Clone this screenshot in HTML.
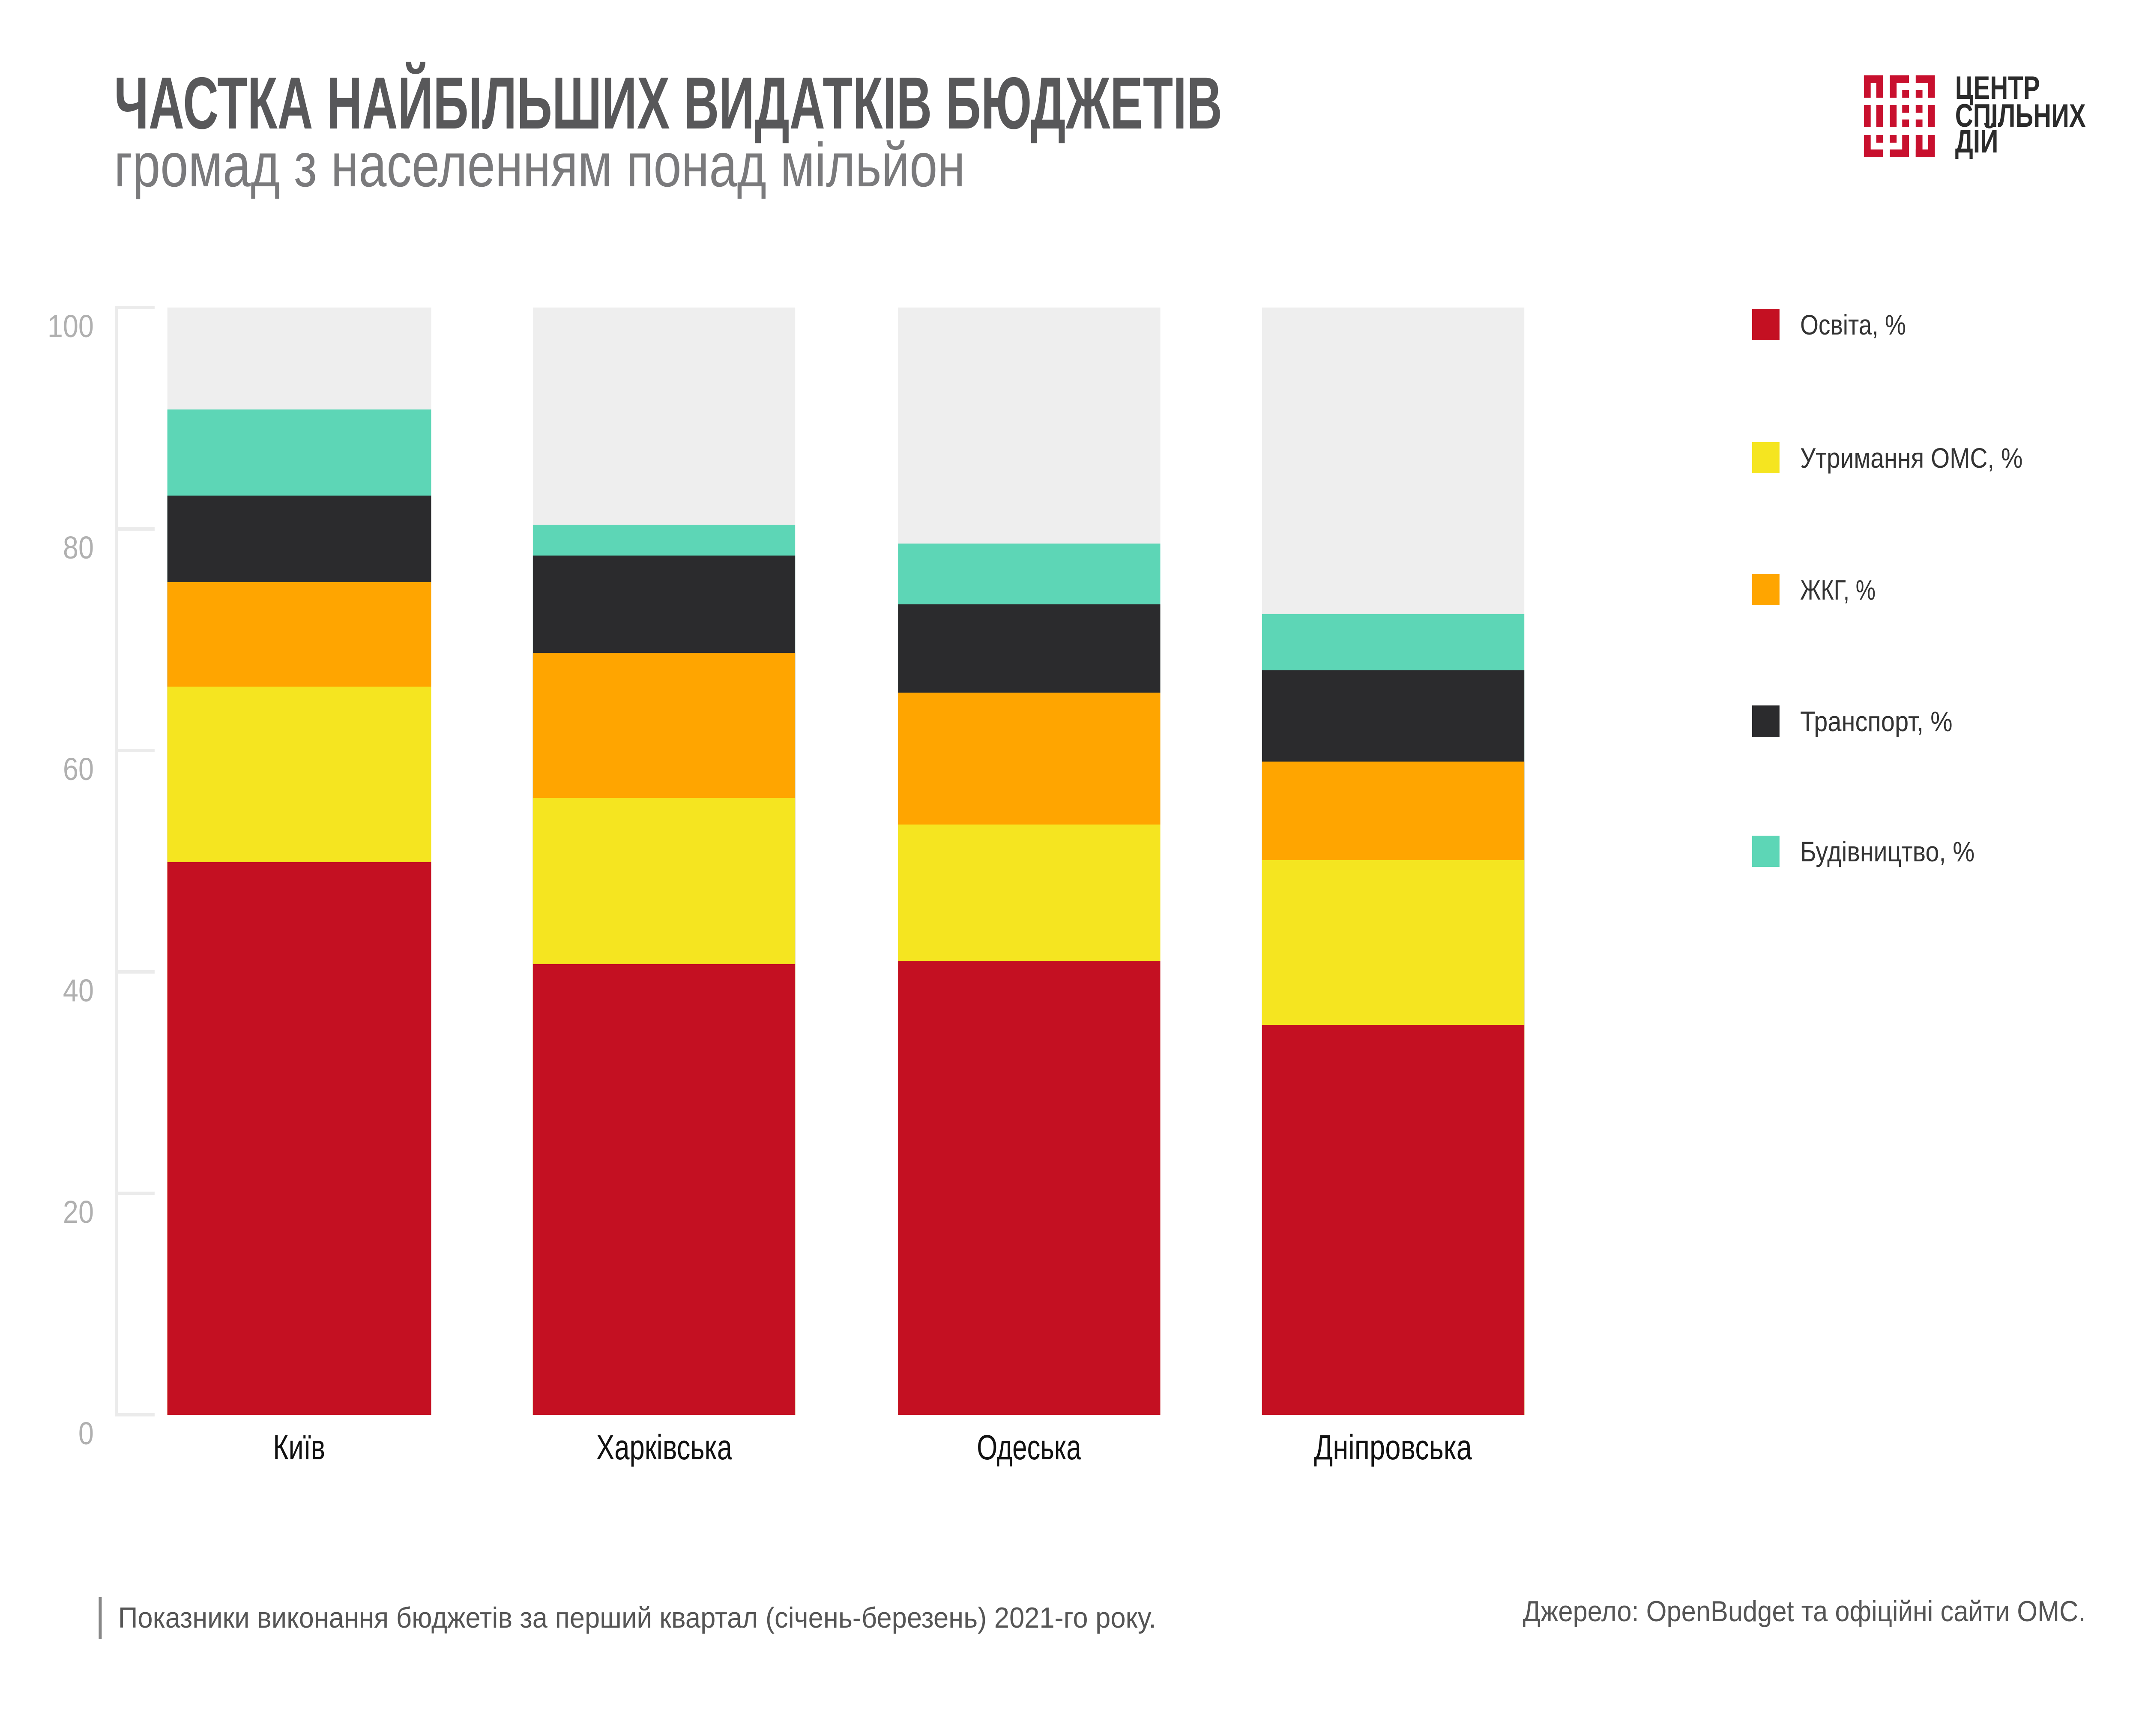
<!DOCTYPE html>
<html><head><meta charset="utf-8"><style>html,body{margin:0;padding:0;background:#fff;overflow:hidden;width:100vw;height:100vh}svg{display:block;position:fixed;left:0;top:0;width:100vw;height:100vh}</style></head>
<body>
<svg xmlns="http://www.w3.org/2000/svg" viewBox="0 0 5708 4053" preserveAspectRatio="none" font-family="'Liberation Sans', sans-serif">
<rect width="5708" height="4053" fill="#fff"/>
<text x="304" y="300" font-size="172" font-weight="bold" fill="#58585a" textLength="2953" lengthAdjust="spacingAndGlyphs">ЧАСТКА НАЙБІЛЬШИХ ВИДАТКІВ БЮДЖЕТІВ</text>
<text x="304" y="435" font-size="145" fill="#7a7a7c" textLength="2268" lengthAdjust="spacingAndGlyphs">громад з населенням понад мільйон</text>
<g fill="#c8102e">
<rect x="4967" y="176" width="51" height="18"/><rect x="4967" y="176" width="18" height="52"/><rect x="5000" y="176" width="18" height="52"/>
<rect x="5036" y="176" width="51" height="18"/><rect x="5036" y="176" width="18" height="52"/><rect x="5069" y="210" width="18" height="18"/>
<rect x="5105" y="176" width="51" height="18"/><rect x="5105" y="210" width="18" height="18"/><rect x="5138" y="176" width="18" height="52"/>
<rect x="4967" y="245" width="18" height="52"/><rect x="5000" y="245" width="18" height="52"/>
<rect x="5036" y="245" width="18" height="52"/><rect x="5069" y="245" width="18" height="18"/><rect x="5069" y="279" width="18" height="18"/>
<rect x="5105" y="245" width="18" height="18"/><rect x="5105" y="279" width="18" height="18"/><rect x="5138" y="245" width="18" height="52"/>
<rect x="4967" y="315" width="18" height="52"/><rect x="4967" y="349" width="51" height="18"/><rect x="5000" y="315" width="18" height="18"/>
<rect x="5036" y="315" width="18" height="18"/><rect x="5069" y="315" width="18" height="52"/><rect x="5036" y="349" width="51" height="18"/>
<rect x="5105" y="315" width="18" height="52"/><rect x="5105" y="349" width="51" height="18"/><rect x="5138" y="315" width="18" height="52"/>
</g>
<g font-size="76" font-weight="bold" fill="#2b2b2b">
<text x="5210" y="231" textLength="226" lengthAdjust="spacingAndGlyphs">ЦЕНТР</text>
<text x="5210" y="296" textLength="348" lengthAdjust="spacingAndGlyphs">СПІЛЬНИХ</text>
<text x="5210" y="356" textLength="115" lengthAdjust="spacingAndGlyphs">ДІЙ</text>
</g>
<g fill="#ebebeb">
<rect x="306" y="714" width="8" height="2593"/>
<rect x="306" y="714" width="106" height="8"/><rect x="306" y="1231" width="106" height="8"/><rect x="306" y="1748" width="106" height="8"/>
<rect x="306" y="2265" width="106" height="8"/><rect x="306" y="2782" width="106" height="8"/><rect x="306" y="3299" width="106" height="8"/>
</g>
<g font-size="74" fill="#b0b0b0" text-anchor="end">
<text x="250" y="787">100</text><text x="250" y="1304">80</text><text x="250" y="1821">60</text>
<text x="250" y="2338">40</text><text x="250" y="2855">20</text><text x="250" y="3372">0</text>
</g>
<g>
<rect x="446" y="718" width="703" height="2585" fill="#eeeeee"/>
<rect x="446" y="956" width="703" height="2347" fill="#5dd6b6"/>
<rect x="446" y="1157" width="703" height="2146" fill="#2b2b2d"/>
<rect x="446" y="1359" width="703" height="1944" fill="#ffa500"/>
<rect x="446" y="1603" width="703" height="1700" fill="#f5e520"/>
<rect x="446" y="2013" width="703" height="1290" fill="#c41022"/>
<rect x="1420" y="718" width="699" height="2585" fill="#eeeeee"/>
<rect x="1420" y="1225" width="699" height="2078" fill="#5dd6b6"/>
<rect x="1420" y="1297" width="699" height="2006" fill="#2b2b2d"/>
<rect x="1420" y="1524" width="699" height="1779" fill="#ffa500"/>
<rect x="1420" y="1863" width="699" height="1440" fill="#f5e520"/>
<rect x="1420" y="2251" width="699" height="1052" fill="#c41022"/>
<rect x="2393" y="718" width="699" height="2585" fill="#eeeeee"/>
<rect x="2393" y="1269" width="699" height="2034" fill="#5dd6b6"/>
<rect x="2393" y="1411" width="699" height="1892" fill="#2b2b2d"/>
<rect x="2393" y="1617" width="699" height="1686" fill="#ffa500"/>
<rect x="2393" y="1925" width="699" height="1378" fill="#f5e520"/>
<rect x="2393" y="2243" width="699" height="1060" fill="#c41022"/>
<rect x="3363" y="718" width="699" height="2585" fill="#eeeeee"/>
<rect x="3363" y="1434" width="699" height="1869" fill="#5dd6b6"/>
<rect x="3363" y="1565" width="699" height="1738" fill="#2b2b2d"/>
<rect x="3363" y="1778" width="699" height="1525" fill="#ffa500"/>
<rect x="3363" y="2008" width="699" height="1295" fill="#f5e520"/>
<rect x="3363" y="2393" width="699" height="910" fill="#c41022"/>
</g>
<g font-size="82" fill="#111" text-anchor="middle">
<text x="797" y="3407" textLength="139" lengthAdjust="spacingAndGlyphs">Київ</text>
<text x="1770" y="3407" textLength="362" lengthAdjust="spacingAndGlyphs">Харківська</text>
<text x="2742" y="3407" textLength="278" lengthAdjust="spacingAndGlyphs">Одеська</text>
<text x="3712" y="3407" textLength="421" lengthAdjust="spacingAndGlyphs">Дніпровська</text>
</g>
<rect x="4669" y="721" width="73" height="73" fill="#c41022"/>
<rect x="4669" y="1032" width="73" height="73" fill="#f5e520"/>
<rect x="4669" y="1340" width="73" height="73" fill="#ffa500"/>
<rect x="4669" y="1647" width="73" height="73" fill="#2b2b2d"/>
<rect x="4669" y="1951" width="73" height="73" fill="#5dd6b6"/>
<g font-size="66" fill="#333">
<text x="4797" y="781" textLength="282" lengthAdjust="spacingAndGlyphs">Освіта, %</text>
<text x="4797" y="1092" textLength="593" lengthAdjust="spacingAndGlyphs">Утримання ОМС, %</text>
<text x="4797" y="1400" textLength="201" lengthAdjust="spacingAndGlyphs">ЖКГ, %</text>
<text x="4797" y="1707" textLength="406" lengthAdjust="spacingAndGlyphs">Транспорт, %</text>
<text x="4797" y="2011" textLength="465" lengthAdjust="spacingAndGlyphs">Будівництво, %</text>
</g>
<rect x="263" y="3729" width="8" height="98" fill="#888"/>
<g font-size="68" fill="#555">
<text x="315" y="3800" textLength="2766" lengthAdjust="spacingAndGlyphs">Показники виконання бюджетів за перший квартал (січень-березень) 2021-го року.</text>
<text x="4058" y="3785" textLength="1500" lengthAdjust="spacingAndGlyphs">Джерело: OpenBudget та офіційні сайти ОМС.</text>
</g>
</svg>
</body></html>
